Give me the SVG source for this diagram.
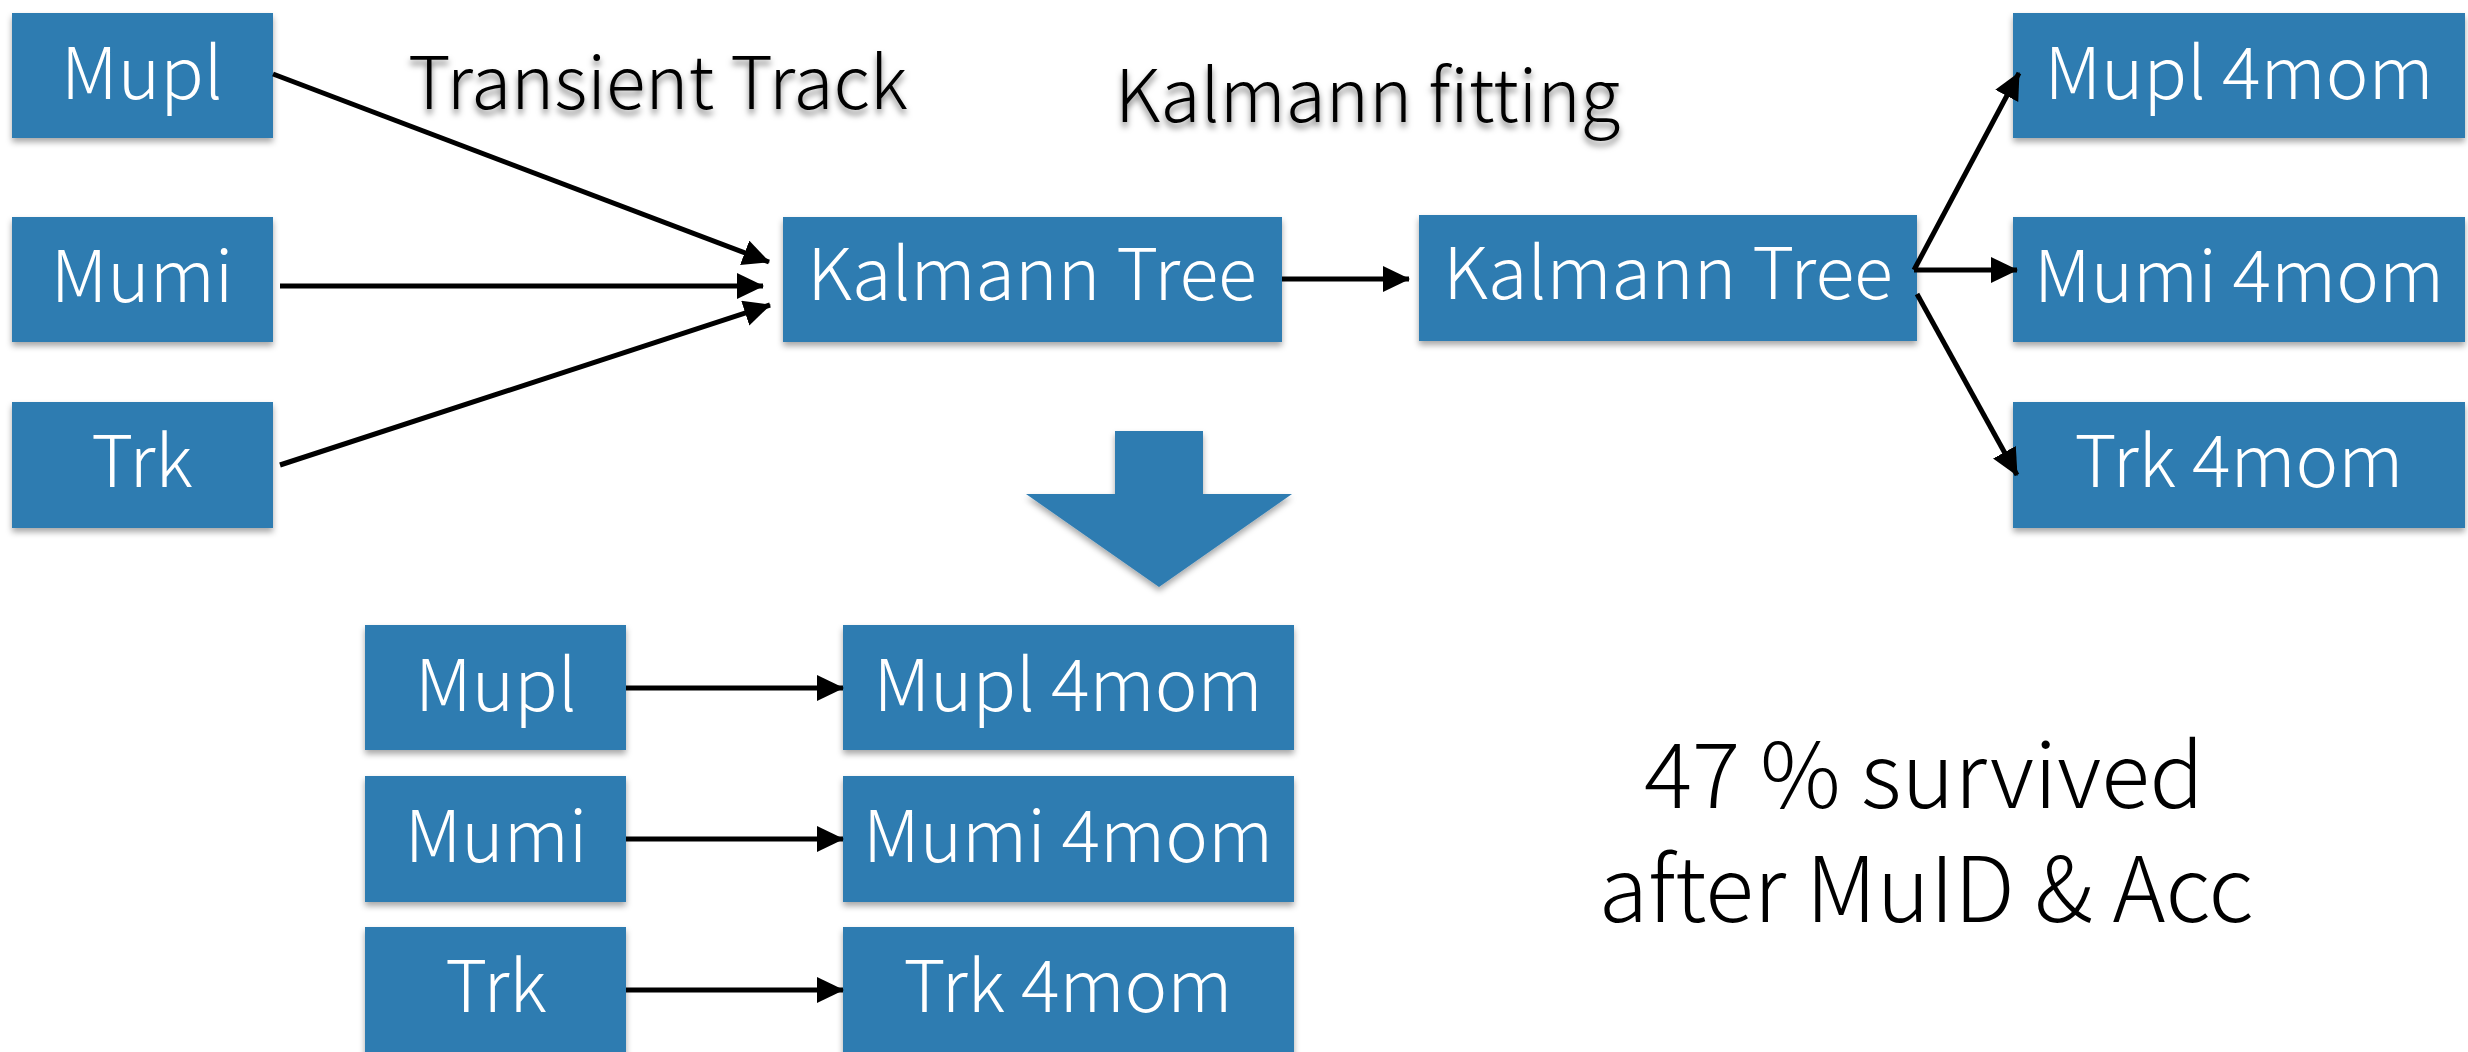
<svg xmlns="http://www.w3.org/2000/svg" width="2468" height="1052" viewBox="0 0 2468 1052">
<style>
.box{fill:#2f7cb1;filter:url(#bs)}
.bt{font-family:"Noto Sans CJK KR","Noto Sans",sans-serif;font-weight:300;font-size:72px;fill:#fff;text-anchor:middle}
.lbl{font-family:"Noto Sans CJK KR","Noto Sans",sans-serif;font-weight:300;font-size:73px;fill:#000;filter:url(#ts)}
.big{font-family:"Noto Sans CJK KR","Noto Sans",sans-serif;font-weight:300;font-size:90px;fill:#000;text-anchor:middle}
.ln{stroke:#000;stroke-width:5;fill:none;marker-end:url(#ah)}
</style>
<defs>
<filter id="bs" x="-5%" y="-10%" width="110%" height="130%"><feDropShadow dx="0" dy="4" stdDeviation="3" flood-color="#000" flood-opacity="0.35"/></filter>
<filter id="ts" x="-5%" y="-20%" width="110%" height="150%"><feDropShadow dx="0" dy="5" stdDeviation="3" flood-color="#000" flood-opacity="0.5"/></filter>
<marker id="ah" markerUnits="userSpaceOnUse" markerWidth="28" markerHeight="28" refX="26" refY="13" orient="auto"><path d="M0,0 L27,13 L0,26 z" fill="#000"/></marker>
</defs>
<rect width="2468" height="1052" fill="#fff"/>
<text class="lbl" x="408" y="109">Transient Track</text>
<text class="lbl" x="1115" y="122">Kalmann fitting</text>
<g id="in_mupl"><rect class="box" x="12" y="13" width="261" height="125"/><text class="bt" x="142" y="99">Mupl</text></g>
<g id="in_mumi"><rect class="box" x="12" y="217" width="261" height="125"/><text class="bt" x="142" y="302">Mumi</text></g>
<g id="in_trk"><rect class="box" x="12" y="402" width="261" height="126"/><text class="bt" x="142" y="487">Trk</text></g>
<g id="kt1"><rect class="box" x="783" y="217" width="499" height="125"/><text class="bt" x="1032" y="300">Kalmann Tree</text></g>
<g id="kt2"><rect class="box" x="1419" y="215" width="498" height="126"/><text class="bt" x="1668" y="299">Kalmann Tree</text></g>
<g id="out_mupl"><rect class="box" x="2013" y="13" width="452" height="125"/><text class="bt" x="2239" y="99">Mupl 4mom</text></g>
<g id="out_mumi"><rect class="box" x="2013" y="217" width="452" height="125"/><text class="bt" x="2239" y="302">Mumi 4mom</text></g>
<g id="out_trk"><rect class="box" x="2013" y="402" width="452" height="126"/><text class="bt" x="2239" y="487">Trk 4mom</text></g>
<g id="down_arrow"><polygon class="box" points="1115,431 1203,431 1203,494 1292,494 1159,587 1026,494 1115,494"/></g>
<g id="b_mupl"><rect class="box" x="365" y="625" width="261" height="125"/><text class="bt" x="496" y="711">Mupl</text></g>
<g id="b_mumi"><rect class="box" x="365" y="776" width="261" height="126"/><text class="bt" x="496" y="862">Mumi</text></g>
<g id="b_trk"><rect class="box" x="365" y="927" width="261" height="130"/><text class="bt" x="496" y="1012">Trk</text></g>
<g id="b_mupl4"><rect class="box" x="843" y="625" width="451" height="125"/><text class="bt" x="1068" y="711">Mupl 4mom</text></g>
<g id="b_mumi4"><rect class="box" x="843" y="776" width="451" height="126"/><text class="bt" x="1068" y="862">Mumi 4mom</text></g>
<g id="b_trk4"><rect class="box" x="843" y="927" width="451" height="130"/><text class="bt" x="1068" y="1012">Trk 4mom</text></g>
<g id="note"><text class="big" x="1924" y="808">47 % survived</text><text class="big" x="1926" y="922">after MuID &amp; Acc</text></g>
<g id="connectors">
<line class="ln" x1="273" y1="74" x2="769" y2="262"/>
<line class="ln" x1="280" y1="286" x2="763" y2="286"/>
<line class="ln" x1="280" y1="465" x2="770" y2="305"/>
<line class="ln" x1="1282" y1="279" x2="1409" y2="279"/>
<line class="ln" x1="1914" y1="270" x2="2019" y2="73"/>
<line class="ln" x1="1914" y1="270" x2="2017" y2="270"/>
<line class="ln" x1="1917" y1="294" x2="2017" y2="475"/>
<line class="ln" x1="626" y1="688" x2="843" y2="688"/>
<line class="ln" x1="626" y1="839" x2="843" y2="839"/>
<line class="ln" x1="626" y1="990" x2="843" y2="990"/>
</g>
</svg>
